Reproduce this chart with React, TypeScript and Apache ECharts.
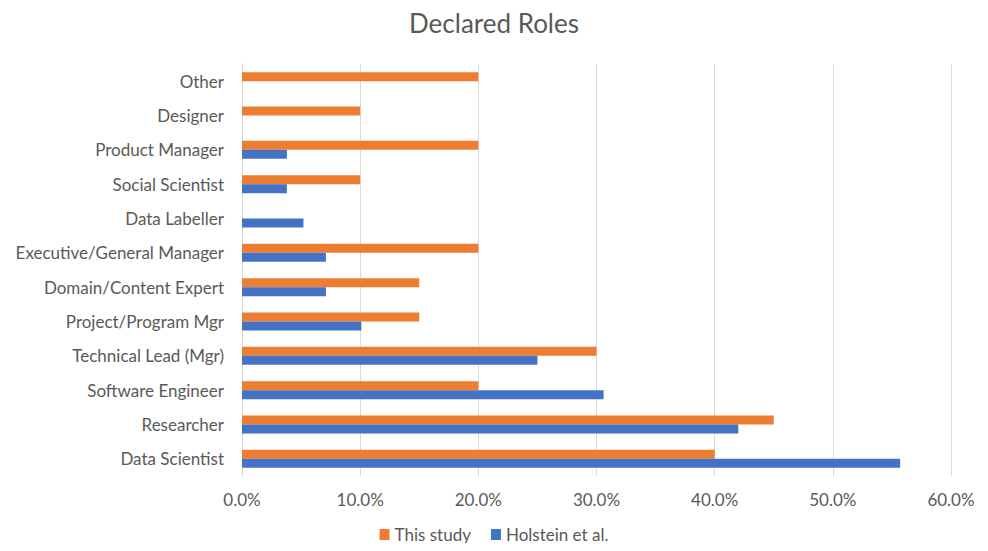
import React, { useEffect, useRef } from "react";
import * as echarts from "echarts";

// Roles listed bottom-to-top along the category axis
const roles = [
  "Data Scientist",
  "Researcher",
  "Software Engineer",
  "Technical Lead (Mgr)",
  "Project/Program Mgr",
  "Domain/Content Expert",
  "Executive/General Manager",
  "Data Labeller",
  "Social Scientist",
  "Product Manager",
  "Designer",
  "Other",
];

// Share of respondents (%) per role
const thisStudy = [40, 45, 20, 30, 15, 15, 20, null, 10, 20, 10, 20];
const holstein = [55.7, 42.0, 30.6, 25.0, 10.1, 7.1, 7.1, 5.2, 3.8, 3.8, null, null];

const xTicks = { min: 0, max: 60, interval: 10 };

const FONT = "Lato, 'Noto Sans', sans-serif";
const TEXT = "#595959";

export default function App() {
  const ref = useRef<HTMLDivElement>(null);

  useEffect(() => {
    if (!ref.current) return;
    const chart = echarts.init(ref.current, null, { renderer: "svg" });
    chart.setOption({
      animation: false,
      backgroundColor: "#ffffff",
      title: {
        text: "Declared Roles",
        left: "center",
        top: 5,
        textStyle: { fontFamily: FONT, fontSize: 26, fontWeight: "normal", color: TEXT },
      },
      legend: {
        bottom: 3,
        left: "center",
        data: ["This study", "Holstein et al."],
        itemWidth: 10,
        itemHeight: 11,
        itemGap: 20,
        icon: "rect",
        textStyle: { fontFamily: FONT, fontSize: 17, color: TEXT },
      },
      grid: { left: 242, right: 37, top: 64, bottom: 75, containLabel: false },
      xAxis: {
        type: "value",
        min: xTicks.min,
        max: xTicks.max,
        interval: xTicks.interval,
        axisLine: { show: false },
        axisTick: { show: false },
        axisLabel: {
          formatter: (v: number) => v.toFixed(1) + "%",
          fontFamily: FONT,
          fontSize: 17,
          color: TEXT,
          margin: 15,
        },
        splitLine: { lineStyle: { color: "#d9d9d9", width: 1 } },
      },
      yAxis: {
        type: "category",
        data: roles,
        axisLine: { show: true, lineStyle: { color: "#d9d9d9", width: 1 } },
        axisTick: { show: false },
        axisLabel: { fontFamily: FONT, fontSize: 17, color: TEXT, margin: 18 },
      },
      series: [
        {
          name: "This study",
          type: "bar",
          data: thisStudy,
          barWidth: 9,
          barGap: "0%",
          itemStyle: { color: "#ED7D31" },
        },
        {
          name: "Holstein et al.",
          type: "bar",
          data: holstein,
          barWidth: 9,
          barGap: "0%",
          itemStyle: { color: "#4472C4" },
        },
      ],
    });
    return () => chart.dispose();
  }, []);

  return <div ref={ref} style={{ width: 988, height: 551, margin: -8 }} />;
}
